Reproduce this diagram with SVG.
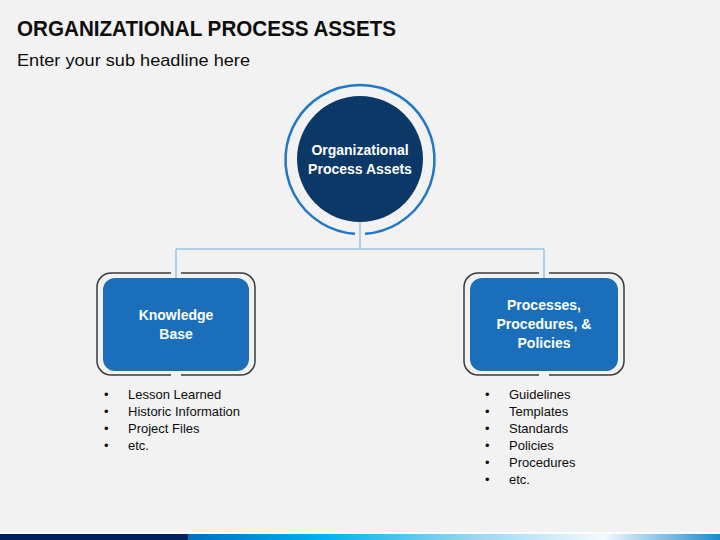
<svg xmlns="http://www.w3.org/2000/svg" width="720" height="540" viewBox="0 0 720 540">
<defs>
<style>
.title{font-family:"Liberation Sans",Arial,sans-serif;font-weight:bold;fill:#0d0d0d}
.sub{font-family:"Liberation Sans",Arial,sans-serif;fill:#0d0d0d}
.lbl{font-family:"Liberation Sans",Arial,sans-serif;font-weight:bold;font-size:14px;fill:#ffffff;text-anchor:middle}
.bul{font-family:"Liberation Sans",Arial,sans-serif;font-size:13px;fill:#0d0d0d}
.conn{stroke:#9dc3e6;stroke-width:1.5;fill:none}
.frame{stroke:#3a3a3a;stroke-width:1.5;fill:none}
.box{fill:#1b6fba}
</style>
<linearGradient id="bar" x1="0" y1="0" x2="1" y2="0">
<stop offset="0" stop-color="#0070c0"/>
<stop offset="0.25" stop-color="#00b0f0"/>
<stop offset="0.55" stop-color="#9bd9f2"/>
<stop offset="0.78" stop-color="#f4fafd"/>
<stop offset="1" stop-color="#1b8ad6"/>
</linearGradient>
</defs>
<rect width="720" height="540" fill="#f2f2f2"/>
<text class="title" x="17" y="36" font-size="22" textLength="379" lengthAdjust="spacingAndGlyphs">ORGANIZATIONAL PROCESS ASSETS</text>
<text class="sub" x="17" y="66" font-size="17" textLength="233" lengthAdjust="spacingAndGlyphs">Enter your sub headline here</text>

<g id="connectors">
<path class="conn" d="M360,222 V249 M176,249 H544 M176,249 V278 M544,249 V278"/>
</g>

<g id="node-root">
<path d="M365,233.8 A74.5,74.5 0 1 0 355,233.8" fill="none" stroke="#1f77c8" stroke-width="2.5"/>
<circle cx="360" cy="159" r="63" fill="#0c3868"/>
<text class="lbl" x="360" y="155">Organizational</text>
<text class="lbl" x="360" y="174">Process Assets</text>
</g>

<g id="node-knowledge">
<path class="frame" d="M181,273 H241 A14,14 0 0 1 255,287 V361 A14,14 0 0 1 241,375 H181 M171,273 H111 A14,14 0 0 0 97,287 V361 A14,14 0 0 0 111,375 H171"/>
<rect class="box" x="103" y="278" width="146" height="93" rx="12"/>
<text class="lbl" x="176" y="320">Knowledge</text>
<text class="lbl" x="176" y="339">Base</text>
</g>

<g id="node-processes">
<path class="frame" d="M549,273 H610 A14,14 0 0 1 624,287 V361 A14,14 0 0 1 610,375 H549 M539,273 H478 A14,14 0 0 0 464,287 V361 A14,14 0 0 0 478,375 H539"/>
<rect class="box" x="470" y="278" width="148" height="93" rx="12"/>
<text class="lbl" x="544" y="310">Processes,</text>
<text class="lbl" x="544" y="329">Procedures, &amp;</text>
<text class="lbl" x="544" y="348">Policies</text>
</g>

<g id="list-left" class="bul">
<text x="104" y="399">•</text><text x="128" y="399">Lesson Learned</text>
<text x="104" y="416">•</text><text x="128" y="416">Historic Information</text>
<text x="104" y="433">•</text><text x="128" y="433">Project Files</text>
<text x="104" y="450">•</text><text x="128" y="450">etc.</text>
</g>

<g id="list-right" class="bul">
<text x="485" y="399">•</text><text x="509" y="399">Guidelines</text>
<text x="485" y="416">•</text><text x="509" y="416">Templates</text>
<text x="485" y="433">•</text><text x="509" y="433">Standards</text>
<text x="485" y="450">•</text><text x="509" y="450">Policies</text>
<text x="485" y="467">•</text><text x="509" y="467">Procedures</text>
<text x="485" y="484">•</text><text x="509" y="484">etc.</text>
</g>

<rect x="0" y="532" width="720" height="1.5" fill="#ffffff"/>
<rect x="188" y="534" width="532" height="6" fill="url(#bar)"/>
<rect x="0" y="534" width="188" height="6" fill="#002060"/>
</svg>
